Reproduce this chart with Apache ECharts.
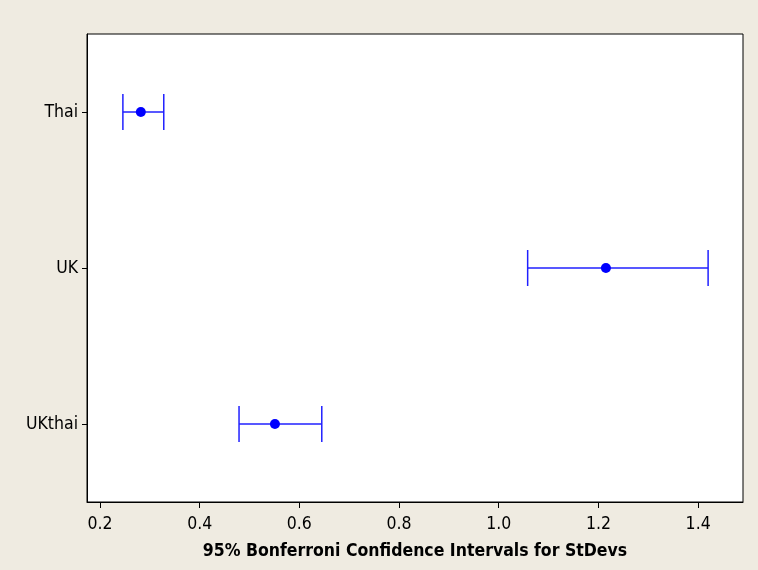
<!DOCTYPE html>
<html><head><meta charset="utf-8">
<script src="https://cdn.jsdelivr.net/npm/echarts@6/dist/echarts.min.js"></script>
<style>html,body{margin:0;padding:0;background:#efebe1;}#c{width:758px;height:570px;}</style>
</head><body><div id="c"></div>
<script>
var categories = ['Thai', 'UK', 'UKthai'];
var lower = [0.246, 1.058, 0.479];
var estimate = [0.282, 1.215, 0.551];
var upper = [0.328, 1.420, 0.645];
var xTicks = [0.2, 0.4, 0.6, 0.8, 1.0, 1.2, 1.4];

var chart = echarts.init(document.getElementById('c'));
var font = 'DejaVu Sans Condensed';
chart.setOption({
  backgroundColor: '#efebe1',
  animation: false,
  grid: {left: 87, top: 34, right: 15, bottom: 68, show: true, backgroundColor: '#fff', borderColor: '#000', borderWidth: 1},
  xAxis: {
    type: 'value', min: 0.174, max: 1.49,
    name: '95% Bonferroni Confidence Intervals for StDevs',
    nameLocation: 'middle', nameGap: 40,
    nameTextStyle: {fontFamily: font, fontWeight: 'bold', fontSize: 17.5, color: '#000'},
    axisLine: {show: true, lineStyle: {color: '#000'}},
    axisTick: {show: true, length: 6, customValues: xTicks, lineStyle: {color: '#000'}},
    axisLabel: {customValues: xTicks, formatter: function(v){return v.toFixed(1);}, fontFamily: font, fontSize: 17.5, color: '#000', margin: 13},
    splitLine: {show: false}
  },
  yAxis: {
    type: 'category', data: categories, inverse: true,
    axisLine: {show: true, lineStyle: {color: '#000'}},
    axisTick: {show: true, length: 5, alignWithLabel: true, lineStyle: {color: '#000'}},
    axisLabel: {fontFamily: font, fontSize: 17.5, color: '#000', margin: 9},
    splitLine: {show: false}
  },
  series: [{
    type: 'custom',
    data: categories.map(function(c, i){ return [i, lower[i], upper[i]]; }),
    encode: {y: 0, x: [1, 2]},
    renderItem: function(params, api){
      var i = api.value(0);
      var p1 = api.coord([api.value(1), i]);
      var p2 = api.coord([api.value(2), i]);
      var h = 18;
      var st = {stroke: '#2020ff', lineWidth: 1.5};
      return {type: 'group', children: [
        {type: 'line', shape: {x1: p1[0], y1: p1[1], x2: p2[0], y2: p2[1]}, style: st},
        {type: 'line', shape: {x1: p1[0], y1: p1[1]-h, x2: p1[0], y2: p1[1]+h}, style: st},
        {type: 'line', shape: {x1: p2[0], y1: p2[1]-h, x2: p2[0], y2: p2[1]+h}, style: st}
      ]};
    }
  }, {
    type: 'scatter',
    data: categories.map(function(c, i){ return [estimate[i], i]; }),
    symbol: 'circle', symbolSize: 10,
    itemStyle: {color: '#0000ff', opacity: 1}
  }]
});
</script></body></html>
